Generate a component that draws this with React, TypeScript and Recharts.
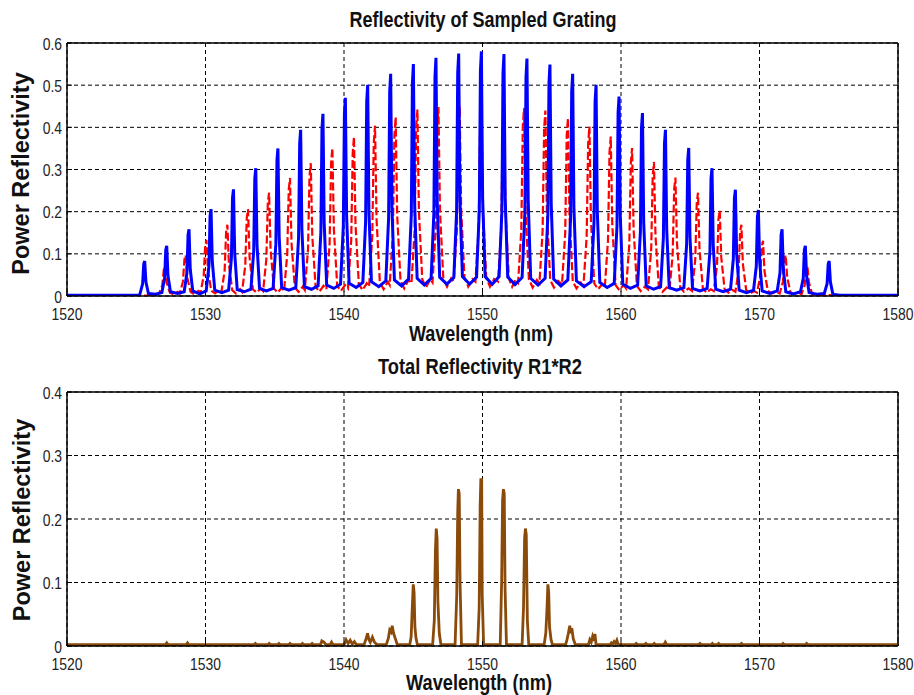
import React from 'react';
import { LineChart, Line, XAxis, YAxis, CartesianGrid, ReferenceLine } from 'recharts';

// Wavelength (nm), power reflectivity pairs for grating R1 (solid blue)
const gratingR1: [number, number][] = [
  [1520, 0.002], [1525.2, 0.002], [1525.26, 0.004], [1525.46, 0.029], [1525.54, 0.076], [1525.61, 0.083], [1525.7, 0.033], [1525.88, 0.006], [1526.38, 0.004],
  [1526.85, 0.008], [1527.05, 0.042], [1527.13, 0.109], [1527.2, 0.119], [1527.29, 0.048], [1527.47, 0.01], [1527.98, 0.006],
  [1528.46, 0.01], [1528.66, 0.055], [1528.74, 0.145], [1528.81, 0.158], [1528.9, 0.063], [1529.08, 0.012], [1529.58, 0.005],
  [1530.05, 0.012], [1530.25, 0.072], [1530.33, 0.19], [1530.4, 0.206], [1530.49, 0.082], [1530.67, 0.014], [1531.18, 0.008],
  [1531.67, 0.014], [1531.87, 0.089], [1531.95, 0.233], [1532.02, 0.253], [1532.11, 0.101], [1532.29, 0.015], [1532.8, 0.01],
  [1533.28, 0.016], [1533.48, 0.106], [1533.56, 0.279], [1533.63, 0.303], [1533.72, 0.121], [1533.9, 0.018], [1534.4, 0.012],
  [1534.88, 0.018], [1535.08, 0.123], [1535.16, 0.322], [1535.23, 0.35], [1535.32, 0.14], [1535.5, 0.02], [1536.02, 0.014],
  [1536.52, 0.02], [1536.72, 0.138], [1536.8, 0.362], [1536.87, 0.394], [1536.96, 0.158], [1537.14, 0.022], [1537.65, 0.016],
  [1538.13, 0.024], [1538.33, 0.151], [1538.41, 0.397], [1538.48, 0.432], [1538.57, 0.173], [1538.75, 0.026], [1539.26, 0.018],
  [1539.75, 0.028], [1539.95, 0.165], [1540.03, 0.432], [1540.1, 0.47], [1540.19, 0.188], [1540.37, 0.03], [1540.88, 0.02],
  [1541.36, 0.032], [1541.56, 0.175], [1541.64, 0.461], [1541.71, 0.501], [1541.8, 0.2], [1541.98, 0.034], [1542.51, 0.022],
  [1543.02, 0.036], [1543.22, 0.184], [1543.3, 0.485], [1543.37, 0.527], [1543.46, 0.211], [1543.64, 0.038], [1544.16, 0.024],
  [1544.66, 0.04], [1544.86, 0.193], [1544.94, 0.506], [1545.01, 0.55], [1545.1, 0.22], [1545.28, 0.042], [1545.8, 0.026],
  [1546.29, 0.042], [1546.49, 0.198], [1546.57, 0.52], [1546.64, 0.565], [1546.73, 0.226], [1546.91, 0.044], [1547.43, 0.028],
  [1547.93, 0.044], [1548.13, 0.201], [1548.21, 0.529], [1548.28, 0.575], [1548.37, 0.23], [1548.55, 0.046], [1549.07, 0.028],
  [1549.57, 0.045], [1549.77, 0.203], [1549.85, 0.534], [1549.92, 0.58], [1550.01, 0.232], [1550.19, 0.046], [1550.7, 0.028],
  [1551.2, 0.046], [1551.4, 0.201], [1551.48, 0.528], [1551.55, 0.574], [1551.64, 0.23], [1551.82, 0.045], [1552.35, 0.027],
  [1552.86, 0.044], [1553.06, 0.197], [1553.14, 0.518], [1553.21, 0.563], [1553.3, 0.225], [1553.48, 0.042], [1554.01, 0.026],
  [1554.52, 0.042], [1554.72, 0.192], [1554.8, 0.505], [1554.87, 0.549], [1554.96, 0.22], [1555.14, 0.04], [1555.66, 0.024],
  [1556.16, 0.038], [1556.36, 0.184], [1556.44, 0.485], [1556.51, 0.527], [1556.6, 0.211], [1556.78, 0.036], [1557.33, 0.022],
  [1557.85, 0.034], [1558.05, 0.175], [1558.13, 0.461], [1558.2, 0.501], [1558.29, 0.2], [1558.47, 0.032], [1559.0, 0.02],
  [1559.51, 0.03], [1559.71, 0.166], [1559.79, 0.435], [1559.86, 0.473], [1559.95, 0.189], [1560.13, 0.028], [1560.68, 0.018],
  [1561.2, 0.026], [1561.4, 0.152], [1561.48, 0.399], [1561.55, 0.434], [1561.64, 0.174], [1561.82, 0.024], [1562.35, 0.016],
  [1562.86, 0.022], [1563.06, 0.138], [1563.14, 0.362], [1563.21, 0.394], [1563.3, 0.158], [1563.48, 0.02], [1564.02, 0.014],
  [1564.54, 0.02], [1564.74, 0.123], [1564.82, 0.323], [1564.89, 0.351], [1564.98, 0.14], [1565.16, 0.018], [1565.7, 0.012],
  [1566.22, 0.018], [1566.42, 0.106], [1566.5, 0.279], [1566.57, 0.303], [1566.66, 0.121], [1566.84, 0.016], [1567.38, 0.01],
  [1567.91, 0.016], [1568.11, 0.088], [1568.19, 0.232], [1568.26, 0.252], [1568.35, 0.101], [1568.53, 0.014], [1569.06, 0.008],
  [1569.57, 0.014], [1569.77, 0.071], [1569.85, 0.188], [1569.92, 0.204], [1570.01, 0.082], [1570.19, 0.012], [1570.74, 0.006],
  [1571.28, 0.012], [1571.48, 0.055], [1571.56, 0.145], [1571.63, 0.158], [1571.72, 0.063], [1571.9, 0.01], [1572.44, 0.005],
  [1572.96, 0.01], [1573.16, 0.042], [1573.24, 0.109], [1573.31, 0.119], [1573.4, 0.048], [1573.58, 0.008], [1574.14, 0.004],
  [1574.68, 0.006], [1574.88, 0.029], [1574.96, 0.076], [1575.03, 0.083], [1575.12, 0.033], [1575.3, 0.004], [1575.8, 0.002], [1580, 0.002],
];

// Grating R2 (dashed red)
const gratingR2: [number, number][] = [
  [1520, 0.001], [1526.3, 0.001], [1526.5, 0.004],
  [1526.65, 0.006], [1526.88, 0.025], [1526.99, 0.063], [1527.08, 0.07], [1527.19, 0.032], [1527.43, 0.008], [1527.7, 0.004], [1528.0, 0.01],
  [1528.14, 0.006], [1528.37, 0.034], [1528.48, 0.087], [1528.57, 0.097], [1528.68, 0.044], [1528.92, 0.01], [1529.19, 0.004], [1529.49, 0.012],
  [1529.64, 0.008], [1529.87, 0.047], [1529.98, 0.12], [1530.07, 0.133], [1530.18, 0.06], [1530.42, 0.012], [1530.69, 0.006], [1530.99, 0.014],
  [1531.15, 0.01], [1531.38, 0.059], [1531.49, 0.152], [1531.58, 0.169], [1531.69, 0.076], [1531.93, 0.014], [1532.2, 0.006], [1532.5, 0.016],
  [1532.64, 0.01], [1532.87, 0.072], [1532.98, 0.185], [1533.07, 0.206], [1533.18, 0.093], [1533.42, 0.016], [1533.69, 0.008], [1533.99, 0.018],
  [1534.16, 0.012], [1534.39, 0.086], [1534.5, 0.221], [1534.59, 0.245], [1534.7, 0.11], [1534.94, 0.018], [1535.21, 0.008], [1535.51, 0.02],
  [1535.67, 0.012], [1535.9, 0.098], [1536.01, 0.252], [1536.1, 0.28], [1536.21, 0.126], [1536.45, 0.02], [1536.72, 0.01], [1537.02, 0.022],
  [1537.17, 0.014], [1537.4, 0.11], [1537.51, 0.284], [1537.6, 0.315], [1537.71, 0.142], [1537.95, 0.022], [1538.22, 0.01], [1538.52, 0.024],
  [1538.73, 0.016], [1538.96, 0.123], [1539.07, 0.316], [1539.16, 0.351], [1539.27, 0.158], [1539.51, 0.024], [1539.78, 0.012], [1540.08, 0.026],
  [1540.29, 0.018], [1540.52, 0.132], [1540.63, 0.339], [1540.72, 0.377], [1540.83, 0.17], [1541.07, 0.028], [1541.34, 0.014], [1541.64, 0.03],
  [1541.81, 0.022], [1542.04, 0.141], [1542.15, 0.364], [1542.24, 0.404], [1542.35, 0.182], [1542.59, 0.032], [1542.86, 0.016], [1543.16, 0.034],
  [1543.3, 0.026], [1543.53, 0.148], [1543.64, 0.382], [1543.73, 0.424], [1543.84, 0.191], [1544.08, 0.036], [1544.35, 0.018], [1544.65, 0.038],
  [1544.87, 0.03], [1545.1, 0.155], [1545.21, 0.398], [1545.3, 0.442], [1545.41, 0.199], [1545.65, 0.04], [1545.92, 0.02], [1546.22, 0.04],
  [1546.39, 0.032], [1546.62, 0.157], [1546.73, 0.403], [1546.82, 0.448], [1546.93, 0.202], [1547.17, 0.042], [1547.44, 0.022], [1547.74, 0.042],
  [1547.92, 0.034], [1548.15, 0.158], [1548.26, 0.405], [1548.35, 0.45], [1548.46, 0.203], [1548.7, 0.044], [1548.97, 0.022], [1549.27, 0.04],
  [1549.49, 0.034], [1549.72, 0.16], [1549.83, 0.412], [1549.92, 0.458], [1550.03, 0.206], [1550.27, 0.044], [1550.54, 0.022], [1550.84, 0.04],
  [1551.12, 0.034], [1551.35, 0.158], [1551.46, 0.405], [1551.55, 0.45], [1551.66, 0.203], [1551.9, 0.042], [1552.14, 0.022], [1552.4, 0.04],
  [1552.57, 0.032], [1552.8, 0.156], [1552.91, 0.401], [1553.0, 0.446], [1553.11, 0.201], [1553.35, 0.04], [1553.62, 0.02], [1553.92, 0.038],
  [1554.11, 0.03], [1554.34, 0.154], [1554.45, 0.396], [1554.54, 0.44], [1554.65, 0.198], [1554.89, 0.038], [1555.16, 0.02], [1555.46, 0.036],
  [1555.74, 0.028], [1555.97, 0.148], [1556.08, 0.38], [1556.17, 0.422], [1556.28, 0.19], [1556.52, 0.034], [1556.79, 0.018], [1557.09, 0.032],
  [1557.29, 0.024], [1557.52, 0.141], [1557.63, 0.362], [1557.72, 0.402], [1557.83, 0.181], [1558.07, 0.03], [1558.34, 0.016], [1558.64, 0.028],
  [1558.83, 0.02], [1559.06, 0.132], [1559.17, 0.34], [1559.26, 0.378], [1559.37, 0.17], [1559.61, 0.026], [1559.88, 0.014], [1560.18, 0.026],
  [1560.37, 0.018], [1560.6, 0.123], [1560.71, 0.316], [1560.8, 0.351], [1560.91, 0.158], [1561.15, 0.024], [1561.42, 0.012], [1561.72, 0.022],
  [1561.95, 0.016], [1562.18, 0.111], [1562.29, 0.286], [1562.38, 0.318], [1562.49, 0.143], [1562.73, 0.022], [1563.0, 0.01], [1563.3, 0.02],
  [1563.5, 0.014], [1563.73, 0.098], [1563.84, 0.253], [1563.93, 0.281], [1564.04, 0.126], [1564.28, 0.02], [1564.55, 0.01], [1564.88, 0.018],
  [1565.13, 0.012], [1565.36, 0.086], [1565.47, 0.221], [1565.56, 0.245], [1565.67, 0.11], [1565.91, 0.018], [1566.18, 0.008], [1566.48, 0.016],
  [1566.7, 0.012], [1566.93, 0.071], [1567.04, 0.183], [1567.13, 0.203], [1567.24, 0.091], [1567.48, 0.016], [1567.75, 0.008], [1568.05, 0.014],
  [1568.26, 0.01], [1568.49, 0.059], [1568.6, 0.152], [1568.69, 0.169], [1568.8, 0.076], [1569.04, 0.014], [1569.31, 0.006], [1569.61, 0.012],
  [1569.82, 0.008], [1570.05, 0.046], [1570.16, 0.118], [1570.25, 0.131], [1570.36, 0.059], [1570.6, 0.012], [1570.87, 0.006], [1571.17, 0.01],
  [1571.46, 0.006], [1571.69, 0.034], [1571.8, 0.087], [1571.89, 0.097], [1572.0, 0.044], [1572.24, 0.008], [1572.51, 0.004], [1572.81, 0.008],
  [1573.03, 0.004], [1573.26, 0.025], [1573.37, 0.063], [1573.46, 0.07], [1573.57, 0.032], [1573.81, 0.004], [1574.2, 0.002], [1580, 0.001],
];

// Product R1*R2 (brown)
const totalR1R2: [number, number][] = [
  [1520, 0.002], [1527.1, 0.002], [1527.2, 0.005], [1527.3, 0.002], [1528.6, 0.002], [1528.7, 0.005], [1528.8, 0.002],
  [1533.5, 0.002], [1533.6, 0.004], [1533.7, 0.002], [1534.5, 0.002], [1534.6, 0.004], [1534.7, 0.002],
  [1535.2, 0.002], [1535.3, 0.004], [1535.4, 0.002], [1536.0, 0.002], [1536.1, 0.004], [1536.2, 0.002],
  [1536.9, 0.002], [1537.0, 0.004], [1537.1, 0.002], [1537.6, 0.002], [1537.7, 0.004], [1537.8, 0.002],
  [1538.3, 0.002], [1538.4, 0.008], [1538.55, 0.006], [1538.7, 0.002], [1539.0, 0.002], [1539.1, 0.006], [1539.2, 0.002],
  [1540.0, 0.002], [1540.15, 0.01], [1540.3, 0.004], [1540.45, 0.009], [1540.6, 0.003], [1540.75, 0.007], [1540.9, 0.002],
  [1541.45, 0.002], [1541.6, 0.012], [1541.7, 0.02], [1541.8, 0.01], [1541.9, 0.006], [1542.05, 0.014], [1542.2, 0.006], [1542.4, 0.002],
  [1543.05, 0.002], [1543.2, 0.012], [1543.3, 0.025], [1543.4, 0.022], [1543.48, 0.032], [1543.58, 0.02], [1543.7, 0.012], [1543.85, 0.002],
  [1544.75, 0.002], [1544.85, 0.015], [1544.93, 0.06], [1545.0, 0.097], [1545.06, 0.085], [1545.12, 0.03], [1545.2, 0.012], [1545.3, 0.002],
  [1546.4, 0.002], [1546.52, 0.04], [1546.6, 0.15], [1546.66, 0.185], [1546.72, 0.17], [1546.78, 0.07], [1546.88, 0.02], [1547.0, 0.002],
  [1548.02, 0.002], [1548.14, 0.08], [1548.21, 0.21], [1548.26, 0.247], [1548.32, 0.24], [1548.38, 0.1], [1548.48, 0.002],
  [1549.65, 0.002], [1549.76, 0.06], [1549.83, 0.22], [1549.88, 0.262], [1549.94, 0.262], [1549.98, 0.08], [1550.08, 0.002],
  [1551.28, 0.002], [1551.38, 0.1], [1551.45, 0.23], [1551.51, 0.247], [1551.57, 0.24], [1551.63, 0.09], [1551.73, 0.002],
  [1552.86, 0.002], [1552.96, 0.06], [1553.04, 0.17], [1553.1, 0.185], [1553.16, 0.175], [1553.24, 0.04], [1553.34, 0.002],
  [1554.45, 0.002], [1554.57, 0.02], [1554.66, 0.06], [1554.72, 0.097], [1554.78, 0.085], [1554.84, 0.03], [1554.95, 0.01], [1555.05, 0.002],
  [1556.0, 0.002], [1556.1, 0.01], [1556.2, 0.02], [1556.3, 0.032], [1556.38, 0.02], [1556.45, 0.028], [1556.55, 0.012], [1556.7, 0.002],
  [1557.65, 0.002], [1557.75, 0.01], [1557.85, 0.006], [1557.95, 0.015], [1558.05, 0.008], [1558.12, 0.019], [1558.2, 0.002],
  [1559.2, 0.002], [1559.3, 0.005], [1559.4, 0.003], [1559.5, 0.007], [1559.6, 0.004], [1559.7, 0.009], [1559.8, 0.002],
  [1561.0, 0.002], [1561.1, 0.004], [1561.2, 0.002], [1561.7, 0.002], [1561.8, 0.004], [1561.9, 0.002],
  [1562.3, 0.002], [1562.4, 0.004], [1562.5, 0.002], [1563.1, 0.002], [1563.2, 0.006], [1563.3, 0.002],
  [1565.6, 0.002], [1565.7, 0.004], [1565.8, 0.002], [1566.5, 0.002], [1566.6, 0.004], [1566.7, 0.002],
  [1566.95, 0.002], [1567.05, 0.004], [1567.15, 0.002], [1568.6, 0.002], [1568.7, 0.004], [1568.8, 0.002],
  [1571.6, 0.002], [1571.7, 0.004], [1571.8, 0.002], [1573.3, 0.002], [1573.4, 0.004], [1573.5, 0.002], [1580, 0.002],
];

const wavelengthTicks = [1520, 1530, 1540, 1550, 1560, 1570, 1580];
const gratingTicks = [0, 0.1, 0.2, 0.3, 0.4, 0.5, 0.6];
const totalTicks = [0, 0.1, 0.2, 0.3, 0.4];

const toRows = (pts: [number, number][]) => pts.map(([x, y]) => ({ x, y }));

const SANS = "'Liberation Sans', Arial, sans-serif";

const XTick = (props: any) => {
  const { x, y, payload } = props;
  return (
    <g>
      <line x1={x} x2={x} y1={y} y2={y - 5} stroke="#000" strokeWidth={1} />
      <text
        transform={`translate(${x},${y + 23.5}) scale(0.82,1)`}
        textAnchor="middle"
        fontFamily={SANS}
        fontSize={17}
        fill="#222"
      >
        {payload.value}
      </text>
    </g>
  );
};

const YTick = (props: any) => {
  const { x, y, payload } = props;
  return (
    <g>
      <line x1={x} x2={x + 5} y1={y} y2={y} stroke="#000" strokeWidth={1} />
      <text
        transform={`translate(${x - 5},${y + 6.5}) scale(0.82,1)`}
        textAnchor="end"
        fontFamily={SANS}
        fontSize={17}
        fill="#222"
      >
        {payload.value}
      </text>
    </g>
  );
};

const frameAxes = (yMax: number, yTicks: number[]) => [
  <CartesianGrid key="g" stroke="#000" strokeDasharray="4 3" strokeWidth={1} />,
  <XAxis
    key="x"
    dataKey="x"
    type="number"
    domain={[1520, 1580]}
    ticks={wavelengthTicks}
    interval={0}
    allowDataOverflow
    height={49}
    tickSize={0}
    tickMargin={0}
    tick={<XTick />}
    axisLine={{ stroke: '#000', strokeWidth: 1.5 }}
    tickLine={false}
  />,
  <YAxis
    key="y"
    type="number"
    domain={[0, yMax]}
    ticks={yTicks}
    interval={0}
    allowDataOverflow
    width={67}
    tickSize={0}
    tickMargin={0}
    tick={<YTick />}
    axisLine={{ stroke: '#000', strokeWidth: 1.5 }}
    tickLine={false}
  />,
  <ReferenceLine key="t" y={yMax} stroke="#000" strokeWidth={1.5} />,
  <ReferenceLine key="r" x={1580} stroke="#000" strokeWidth={1.5} />,
];

const Heading = ({ x, y, width, children }: { x: number; y: number; width: number; children: string }) => (
  <text
    x={x - width / 2}
    y={y}
    textLength={width}
    lengthAdjust="spacingAndGlyphs"
    fontFamily={SANS}
    fontWeight="bold"
    fontSize={22}
    fill="#111"
  >
    {children}
  </text>
);

export default function App() {
  return (
    <div style={{ position: 'absolute', left: 0, top: 0, width: 914, height: 695, background: '#fff' }}>
      <div style={{ position: 'absolute', left: 0, top: 0 }}>
        <LineChart width={914} height={345} margin={{ top: 43, right: 16, bottom: 0, left: 0 }}>
          {frameAxes(0.6, gratingTicks)}
          <Line
            data={toRows(gratingR2)}
            dataKey="y"
            type="linear"
            stroke="#ff0000"
            strokeWidth={2.2}
            strokeDasharray="8 3"
            dot={false}
            isAnimationActive={false}
          />
          <Line
            data={toRows(gratingR1)}
            dataKey="y"
            type="linear"
            stroke="#0000ff"
            strokeWidth={3}
            dot={false}
            isAnimationActive={false}
          />
        </LineChart>
      </div>
      <div style={{ position: 'absolute', left: 0, top: 345 }}>
        <LineChart width={914} height={350} margin={{ top: 47, right: 16, bottom: 0, left: 0 }}>
          {frameAxes(0.4, totalTicks)}
          <Line
            data={toRows(totalR1R2)}
            dataKey="y"
            type="linear"
            stroke="#8a4a0a"
            strokeWidth={2.8}
            dot={false}
            isAnimationActive={false}
          />
        </LineChart>
      </div>
      <svg
        width={914}
        height={695}
        style={{ position: 'absolute', left: 0, top: 0, pointerEvents: 'none' }}
      >
        <Heading x={483} y={27} width={267}>Reflectivity of Sampled Grating</Heading>
        <Heading x={481} y={341} width={144}>Wavelength (nm)</Heading>
        <Heading x={480} y={374} width={204}>Total Reflectivity R1*R2</Heading>
        <Heading x={479} y={689.5} width={146}>Wavelength (nm)</Heading>
        <text
          transform="translate(29,173.5) rotate(-90)"
          textAnchor="middle"
          fontFamily={SANS}
          fontWeight="bold"
          fontSize={23.5}
          fill="#111"
        >
          Power Reflectivity
        </text>
        <text
          transform="translate(29.5,520) rotate(-90)"
          textAnchor="middle"
          fontFamily={SANS}
          fontWeight="bold"
          fontSize={23.5}
          fill="#111"
        >
          Power Reflectivity
        </text>
      </svg>
    </div>
  );
}
